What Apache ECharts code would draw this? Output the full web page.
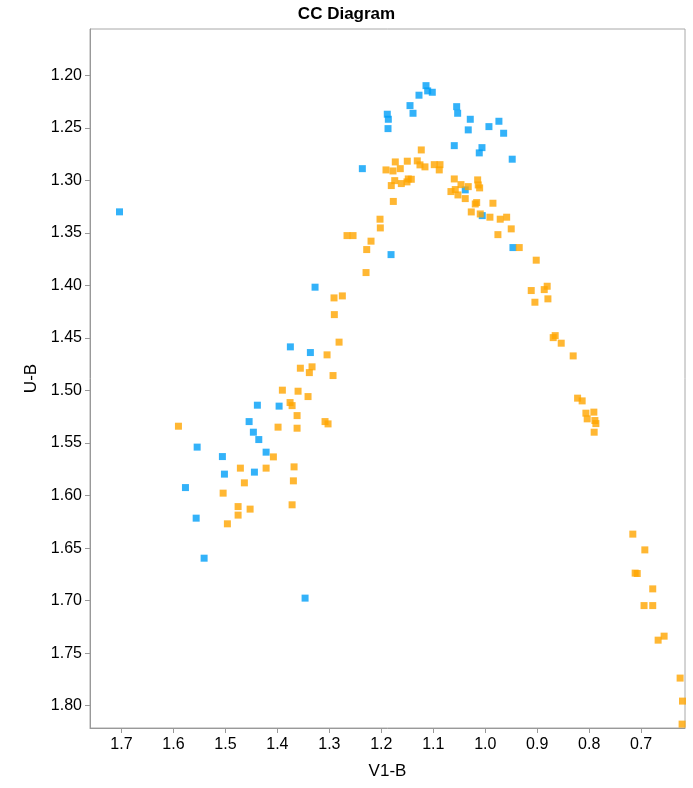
<!DOCTYPE html>
<html>
<head>
<meta charset="utf-8">
<script src="https://cdn.jsdelivr.net/npm/echarts@6/dist/echarts.min.js"></script>
<style>html,body{margin:0;padding:0;background:#fff}#c{width:693px;height:788px}</style>
</head>
<body>
<div id="c"></div>
<script>
const xTicks = [1.7, 1.6, 1.5, 1.4, 1.3, 1.2, 1.1, 1.0, 0.9, 0.8, 0.7];
const yTicks = [1.20, 1.25, 1.30, 1.35, 1.40, 1.45, 1.50, 1.55, 1.60, 1.65, 1.70, 1.75, 1.80];

const blueV1B = [1.7038,1.3275,1.2365,1.1885,1.1865,1.1871,1.114,1.1108,1.1019,1.1275,1.1448,1.139,1.055,1.0531,1.0288,1.0327,0.9929,0.9737,0.9646,1.0596,1.0063,1.0115,0.9481,1.0385,1.0058,0.9467,1.1813,1.375,1.3365,1.4385,1.3967,1.4544,1.4462,1.4358,1.5544,1.5058,1.4217,1.5019,1.4442,1.5769,1.5563,1.541,1.3467];
const blueUB  = [1.330,1.4017,1.2889,1.2371,1.2419,1.2508,1.2099,1.2149,1.2162,1.219,1.2289,1.2362,1.2299,1.2362,1.2419,1.252,1.2489,1.2438,1.2552,1.267,1.2689,1.2739,1.2799,1.3091,1.3336,1.364,1.3707,1.4585,1.4639,1.514,1.5149,1.5296,1.5397,1.5467,1.5539,1.5629,1.5587,1.5796,1.5777,1.5924,1.6215,1.6596,1.6976];

const orangeV1B = [1.1231,1.1731,1.15,1.1308,1.1256,1.116,1.0981,1.0871,1.0885,1.191,1.1775,1.1635,1.1742,1.1481,1.1423,1.1506,1.1615,1.1808,1.0596,1.0467,1.0577,1.066,1.0525,1.0327,1.0146,1.0135,1.0108,1.0385,1.1769,1.0192,1.0165,0.9852,1.0269,1.0096,0.991,0.9712,0.9588,0.95,0.9756,0.9346,0.9019,1.2025,1.2019,1.266,1.2544,1.2198,1.2281,1.2294,1.275,1.291,1.2904,0.9115,0.8865,0.8808,0.9044,0.8794,0.8654,0.8692,0.8538,0.8308,0.8223,0.8135,0.8063,0.791,0.8038,0.789,0.7871,0.7904,0.716,0.6929,0.7115,0.7075,0.6777,0.6944,0.6777,0.6558,0.6673,0.625,0.6204,0.6212,1.2813,1.3044,1.3558,1.3333,1.3385,1.2929,1.3904,1.3602,1.341,1.3756,1.3717,1.3621,1.3083,1.3025,1.3987,1.3621,1.5904,1.4077,1.4712,1.4217,1.3679,1.4635,1.3692,1.5044,1.4756,1.4525,1.4756,1.3717,1.4962];
const orangeUB  = [1.2711,1.2825,1.2818,1.2815,1.2853,1.2872,1.2851,1.2851,1.2901,1.2901,1.2911,1.2889,1.3003,1.2987,1.299,1.3015,1.3031,1.305,1.2987,1.3041,1.3088,1.3107,1.3139,1.306,1.2996,1.3044,1.3072,1.3174,1.3201,1.3225,1.3212,1.3218,1.3301,1.332,1.3351,1.337,1.3351,1.3462,1.3517,1.364,1.376,1.337,1.3453,1.3526,1.3526,1.3579,1.3659,1.3878,1.41,1.4119,1.4278,1.4049,1.404,1.4008,1.416,1.4128,1.4478,1.4497,1.455,1.4671,1.5073,1.5099,1.5216,1.5206,1.527,1.5286,1.5315,1.5397,1.6367,1.6517,1.6738,1.6742,1.6888,1.7047,1.7047,1.7338,1.7376,1.7737,1.7956,1.8175,1.454,1.4661,1.4788,1.4775,1.483,1.4858,1.4997,1.5007,1.5058,1.5115,1.5144,1.5239,1.5296,1.5318,1.5349,1.5359,1.534,1.5632,1.5739,1.5739,1.5727,1.5879,1.586,1.5977,1.6105,1.6129,1.6186,1.6088,1.6269];

const pairs = (xs, ys) => xs.map((x, i) => [x, ys[i]]);

const font = 'Liberation Sans, Arial, sans-serif';
const chart = echarts.init(document.getElementById('c'));
chart.setOption({
  animation: false,
  backgroundColor: '#fff',
  title: {
    text: 'CC Diagram', left: 'center', top: 1,
    textStyle: { fontFamily: font, fontSize: 17, fontWeight: 'bold', color: '#000' }
  },
  grid: { left: 90, right: 8, top: 29, bottom: 60, show: true, borderColor: '#a8a8a8', borderWidth: 1 },
  xAxis: {
    type: 'value', inverse: true, min: 0.6156, max: 1.7606,
    name: 'V1-B', nameLocation: 'middle', nameGap: 35,
    nameTextStyle: { fontFamily: font, fontSize: 17, color: '#000' },
    axisLine: { show: true, lineStyle: { color: '#999' } },
    axisTick: { show: true, length: 5, lineStyle: { color: '#999' }, customValues: xTicks },
    axisLabel: { fontFamily: font, fontSize: 16, color: '#000', margin: 9, customValues: xTicks,
      formatter: v => v.toFixed(1) },
    splitLine: { show: false }
  },
  yAxis: {
    type: 'value', inverse: true, min: 1.156, max: 1.8212,
    name: 'U-B', nameLocation: 'middle', nameGap: 46, nameRotate: 90,
    nameTextStyle: { fontFamily: font, fontSize: 17, color: '#000' },
    axisLine: { show: true, lineStyle: { color: '#999' } },
    axisTick: { show: true, length: 5, lineStyle: { color: '#999' }, customValues: yTicks },
    axisLabel: { fontFamily: font, fontSize: 16, color: '#000', margin: 8, customValues: yTicks,
      formatter: v => v.toFixed(2) },
    splitLine: { show: false }
  },
  series: [
    { type: 'scatter', name: 'blue', symbol: 'rect', symbolSize: 7,
      itemStyle: { color: '#009ff7' }, data: pairs(blueV1B, blueUB) },
    { type: 'scatter', name: 'orange', symbol: 'rect', symbolSize: 7,
      itemStyle: { color: '#ffa500' }, data: pairs(orangeV1B, orangeUB) }
  ]
});
</script>
</body>
</html>
